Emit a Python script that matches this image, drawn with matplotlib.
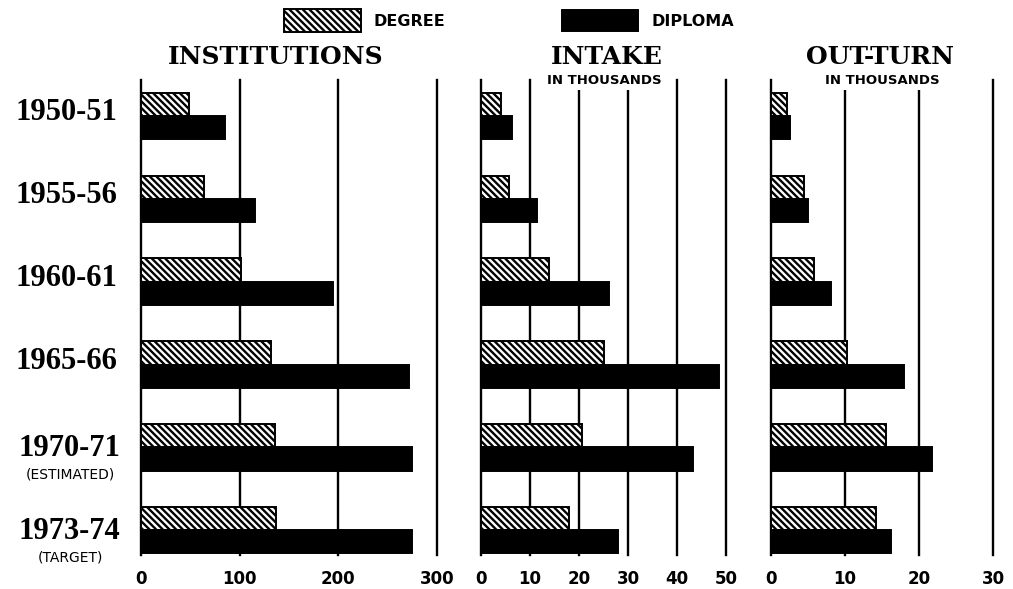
import matplotlib
matplotlib.use("Agg")
import matplotlib.pyplot as plt
from matplotlib.patches import Rectangle
from matplotlib.transforms import blended_transform_factory

years = ["1950-51", "1955-56", "1960-61", "1965-66", "1970-71", "1973-74"]
year_notes = ["", "", "", "", "(ESTIMATED)", "(TARGET)"]

inst_degree = [49, 64, 101, 132, 136, 137]
inst_diploma = [85, 116, 195, 272, 275, 275]

intake_degree = [4.0, 5.8, 13.9, 25.0, 20.6, 18.0]
intake_diploma = [6.4, 11.5, 26.2, 48.6, 43.3, 27.9]

outturn_degree = [2.1, 4.4, 5.8, 10.3, 15.6, 14.2]
outturn_diploma = [2.5, 5.0, 8.1, 18.0, 21.7, 16.2]

panels = [
    ("INSTITUTIONS", "", inst_degree, inst_diploma, [0, 100, 200, 300]),
    ("INTAKE", "IN THOUSANDS", intake_degree, intake_diploma, [0, 10, 20, 30, 40, 50]),
    ("OUT-TURN", "IN THOUSANDS", outturn_degree, outturn_diploma, [0, 10, 20, 30]),
]

W, H = 1013, 589
fig = plt.figure(figsize=(W / 100, H / 100), dpi=100)
plt.rcParams['hatch.linewidth'] = 1.7
HATCH = "\\" * 5

# axes boxes in pixels: (left, right)
boxes = [(141, 437), (481, 726), (771, 993)]
title_x = [276, 607, 880]
sub_x = [0, 604, 882]
ax_bottom = 1 - 555 / H
ax_top = 1 - 80 / H

bh = 0.28
rows = list(range(len(years)))
axes = []
for (title, sub, deg, dip, ticks), (l, r), tx, sx in zip(panels, boxes, title_x, sub_x):
    ax = fig.add_axes([l / W, ax_bottom, (r - l) / W, ax_top - ax_bottom])
    ax.set_xlim(ticks[0], ticks[-1])
    ax.set_ylim(5.30, -0.435)
    for t in ticks:
        ax.axvline(t, color="black", lw=1.7, zorder=1, clip_on=False)
    ax.barh([i - bh / 2 for i in rows], deg, height=bh, color="white",
            edgecolor="black", hatch=HATCH, lw=1.4, zorder=3)
    ax.barh([i + bh / 2 for i in rows], dip, height=bh, color="black",
            edgecolor="black", lw=1.4, zorder=3)
    for s in ax.spines.values():
        s.set_visible(False)
    ax.set_yticks([])
    ax.set_xticks(ticks)
    ax.set_xticklabels([str(t) for t in ticks], fontsize=12, fontweight="bold")
    ax.tick_params(axis="x", length=0, pad=11)
    fig.text(tx / W, 1 - 57 / H, title, ha="center", va="center",
             family="DejaVu Serif", fontweight="bold", fontsize=18)
    if sub:
        fig.text(sx / W, 1 - 81 / H, sub, ha="center", va="center",
                 fontsize=9.5, fontweight="bold", zorder=5,
                 bbox=dict(facecolor="white", edgecolor="none", pad=1.5))
    axes.append(ax)

# year labels on the left
tr = blended_transform_factory(fig.transFigure, axes[0].transData)
for i, (yr, note) in enumerate(zip(years, year_notes)):
    if note:
        fig.text(69 / W, i + 0.02, yr, transform=tr, ha="center", va="center",
                 family="Liberation Serif", fontweight="bold", fontsize=22)
        fig.text(70 / W, i + 0.33, note, transform=tr, ha="center", va="center",
                 fontsize=10)
    else:
        fig.text(66 / W, i - 0.04, yr, transform=tr, ha="center", va="center",
                 family="Liberation Serif", fontweight="bold", fontsize=22)

# legend
fig.add_artist(Rectangle((284 / W, 1 - 32 / H), 77 / W, 23 / H, transform=fig.transFigure,
                         facecolor="white", edgecolor="black", hatch=HATCH, lw=1.4))
fig.text(373 / W, 1 - 21 / H, "DEGREE", ha="left", va="center", fontsize=11.5, fontweight="bold")
fig.add_artist(Rectangle((562 / W, 1 - 31 / H), 76 / W, 21 / H, transform=fig.transFigure,
                         facecolor="black", edgecolor="black", lw=1.4))
fig.text(651 / W, 1 - 21 / H, "DIPLOMA", ha="left", va="center", fontsize=11.5, fontweight="bold")

fig.savefig("out.png", dpi=100)
